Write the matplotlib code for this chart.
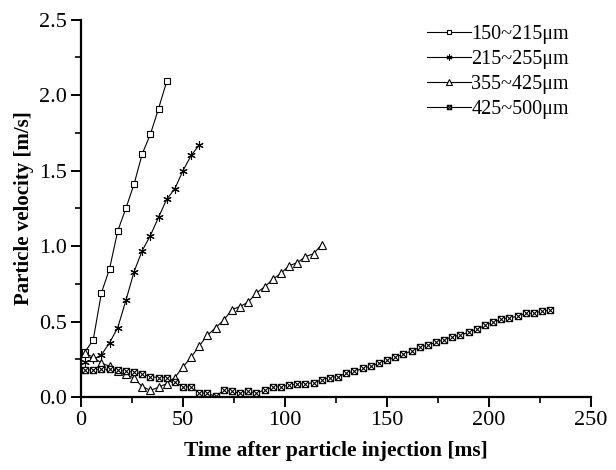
import matplotlib
matplotlib.use("Agg")
import matplotlib.pyplot as plt
from matplotlib.path import Path
from matplotlib.ticker import MultipleLocator, FormatStrFormatter

# data (time in ms, velocity in m/s)
t_150 = [2, 6, 10, 14, 18, 22, 26, 30, 34, 38, 42]
v_150 = [0.30, 0.38, 0.69, 0.85, 1.10, 1.25, 1.41, 1.61, 1.74, 1.91, 2.09]

t_215 = [2, 6, 10, 14, 18, 22, 26, 30, 34, 38, 42, 46, 50, 54, 58]
v_215 = [0.23, 0.25, 0.28, 0.36, 0.46, 0.64, 0.83, 0.97, 1.07, 1.19, 1.31,
         1.38, 1.50, 1.60, 1.67]

t_355 = [2, 6, 10, 14, 18, 22, 26, 30, 34, 38, 42, 46, 50, 54, 58,
         62, 66, 70, 74, 78, 82, 86, 90, 94, 98, 102, 106, 110, 114, 118]
v_355 = [0.29, 0.265, 0.225, 0.205, 0.17, 0.15, 0.125, 0.07, 0.045, 0.065,
         0.09, 0.13, 0.20, 0.265, 0.34, 0.41, 0.46, 0.51, 0.58, 0.60,
         0.63, 0.69, 0.73, 0.78, 0.82, 0.87, 0.89, 0.93, 0.95, 1.01]

t_425 = [2, 6, 10, 14, 18, 22, 26, 30, 34, 38, 42, 46, 50, 54, 58,
         62, 66, 70, 74, 78, 82, 86, 90, 94, 98, 102, 106, 110, 114, 118,
         122, 126, 130, 134, 138, 142, 146, 150, 154, 158, 162, 166, 170, 174,
         178, 182, 186, 190, 194, 198, 202, 206, 210, 214, 218, 222, 226, 230]
v_425 = [0.18, 0.18, 0.185, 0.185, 0.18, 0.17, 0.165, 0.155, 0.135, 0.13,
         0.13, 0.10, 0.07, 0.065, 0.03, 0.025, 0.005, 0.045, 0.04, 0.025,
         0.04, 0.025, 0.05, 0.065, 0.07, 0.08, 0.085, 0.09, 0.095, 0.115,
         0.13, 0.135, 0.16, 0.17, 0.19, 0.205, 0.225, 0.245, 0.265, 0.285,
         0.305, 0.33, 0.345, 0.365, 0.38, 0.40, 0.41, 0.43, 0.45, 0.475,
         0.495, 0.515, 0.525, 0.535, 0.555, 0.555, 0.57, 0.575]

labels = ["150~215μm", "215~255μm", "355~425μm", "425~500μm"]

# square with an X inside
box_x = Path(
    [(-1, -1), (1, -1), (1, 1), (-1, 1), (-1, -1), (-1, -1), (1, 1), (-1, 1), (1, -1)],
    [Path.MOVETO, Path.LINETO, Path.LINETO, Path.LINETO, Path.CLOSEPOLY,
     Path.MOVETO, Path.LINETO, Path.MOVETO, Path.LINETO],
)

plt.rcParams["font.family"] = ["Liberation Serif", "DejaVu Serif"]

fig = plt.figure(figsize=(6.16, 4.70), dpi=100)
ax = fig.add_axes([0.1315, 0.155, 0.828, 0.8035])

common = dict(color="black", lw=0.8, mfc="white", mec="black", mew=0.8)
ax.plot(t_150, v_150, marker="s", ms=5, label=labels[0], **common)
ax.plot(t_215, v_215, marker=(6, 2, 0), ms=6, label=labels[1], **common)
ax.plot(t_355, v_355, marker="^", ms=6, label=labels[2], **common)
ax.plot(t_425, v_425, marker=box_x, ms=4.5, label=labels[3], **common)

ax.set_xlim(0, 250)
ax.set_ylim(0, 2.5)
ax.xaxis.set_major_locator(MultipleLocator(50))
ax.xaxis.set_minor_locator(MultipleLocator(25))
ax.yaxis.set_major_locator(MultipleLocator(0.5))
ax.yaxis.set_minor_locator(MultipleLocator(0.25))
ax.yaxis.set_major_formatter(FormatStrFormatter("%.1f"))

for side in ("top", "right"):
    ax.spines[side].set_visible(False)
for side in ("left", "bottom"):
    ax.spines[side].set_linewidth(1.6)
ax.tick_params(which="major", direction="out", length=7, width=1.4, labelsize=16, pad=3)
ax.tick_params(which="minor", direction="out", length=4, width=1.2)

ax.set_xlabel("Time after particle injection [ms]", fontsize=15.5, fontweight="bold", labelpad=8)
ax.set_ylabel("Particle velocity [m/s]", fontsize=15, fontweight="bold", labelpad=4)

leg = ax.legend(loc="upper left", bbox_to_anchor=(0.693, 0.947),
                bbox_transform=fig.transFigure, frameon=False,
                fontsize=14.5, handlelength=2.2, handletextpad=0.0,
                labelspacing=0.3, markerscale=0.7, borderpad=0, borderaxespad=0)

plt.savefig("out.png", dpi=100)
